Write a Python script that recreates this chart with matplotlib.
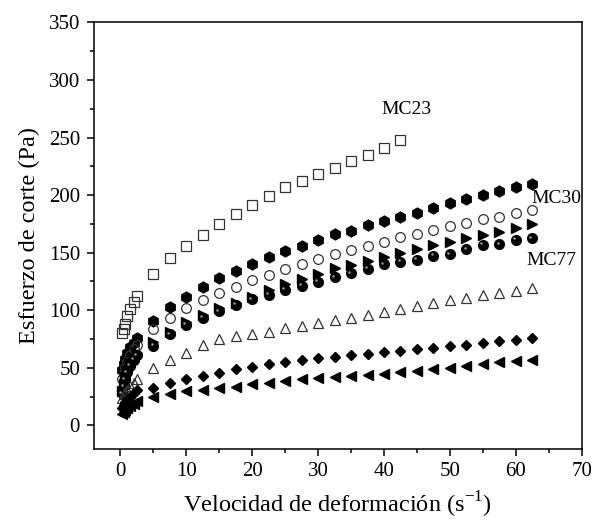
import matplotlib
matplotlib.use("Agg")
import matplotlib.pyplot as plt
from matplotlib import transforms
from matplotlib.ticker import MultipleLocator

plt.rcParams['font.family'] = ['Liberation Serif', 'DejaVu Serif']
plt.rcParams['mathtext.fontset'] = 'custom'
plt.rcParams['mathtext.rm'] = 'Liberation Serif'

# shear rates (1/s): dense start, then regular steps
x_low = [0.25, 0.5, 0.75, 1.0, 1.5, 2.0, 2.5]
x_main = [5, 7.5, 10, 12.5, 15, 17.5, 20, 22.5, 25, 27.5, 30, 32.5, 35,
          37.5, 40, 42.5, 45, 47.5, 50, 52.5, 55, 57.5, 60, 62.5]

# shear stress (Pa) per sample
sq_low = [80, 84, 88, 95, 101, 107, 112]
sq_main = [131.5, 145, 155.7, 165, 174.5, 183.3, 191.6, 199.5, 207, 212.5,
           218.1, 223.9, 229.6, 234.6, 241.2, 247.6]

hex_low = [48, 53, 58, 63, 68, 72, 76]
hex_main = [91, 102.8, 111.8, 120.2, 127.7, 134.3, 140.1, 145.9, 151.4, 155.9,
            160.7, 165.9, 169.2, 173.9, 177.5, 181.3, 184.8, 189.2, 193, 197,
            200.5, 203.8, 207.1, 210]

circ_low = [40, 45, 50, 55, 61, 66, 70]
circ_main = [83.5, 93, 101.7, 108.9, 114.7, 120.5, 126.3, 130.6, 135.5, 140.6,
             144.3, 148.8, 152.3, 155.7, 159.4, 163.3, 166.5, 170, 173, 176,
             179, 181.3, 184.6, 187]

rtri_low = [30, 36, 42, 48, 54, 59, 63]
rtri_main = [72.8, 81.5, 90.1, 95.9, 101.7, 106.6, 111.8, 117.6, 122.8, 127.4,
             131.6, 136.4, 139.3, 142.7, 145.9, 149.4, 152.9, 156.6, 159.4,
             162.4, 165.2, 168.2, 171.1, 174.8]

ball_low = [28, 34, 40, 46, 52, 57, 61]
ball_main = [69, 79, 87.5, 93.5, 99, 104.6, 109.5, 113.3, 117.6, 121, 124.8,
             128.6, 132.1, 135.8, 139.9, 142.1, 143.6, 147.1, 148.5, 152.9,
             156.6, 157.3, 160.9, 162.4]

otri_low = [24, 27, 29, 31, 34, 37, 40]
otri_main = [49.7, 56.9, 63.3, 69.9, 74.9, 77.5, 79, 81.5, 84.4, 86.7, 89.3,
             91.5, 93.5, 96, 98.5, 101, 103.5, 106.5, 108.9, 110.8, 113,
             114.7, 117, 119]

dia_low = [15, 18, 20, 22, 25, 28, 31]
dia_main = [32.4, 36.7, 40.2, 43.1, 45.9, 48.9, 50.6, 53.5, 55.5, 56.9, 58.4,
            59.8, 61.1, 62.4, 63.7, 65, 66.3, 67.6, 68.9, 70.2, 71.5, 73.6,
            74.2, 75.7]

ltri_low = [10, 12, 13, 15, 17, 19, 21]
ltri_main = [25.1, 27.5, 29.5, 30.9, 32.4, 33.8, 36.1, 37.3, 39, 40.2, 41.1,
             42, 43, 44, 45, 46.5, 47.5, 49, 50, 51.5, 53, 55.5, 56.3, 56.9]

fig = plt.figure(figsize=(5.93, 5.2), dpi=100)
ax = fig.add_axes([0.1585, 0.1375, 0.8225, 0.8195])

x_all = x_low + x_main
x_sq = x_low + x_main[:len(sq_main)]
edge = '#333333'

ax.plot(x_sq, sq_low + sq_main, 's', ms=6.6, mfc='none', mec=edge, mew=0.9)
ax.plot(x_all, hex_low + hex_main, 'h', ms=7.8, color='black')
ax.plot(x_all, circ_low + circ_main, 'o', ms=7, mfc='none', mec=edge, mew=0.9)
ax.plot(x_all, rtri_low + rtri_main, '>', ms=7.5, color='black')
ax.plot(x_all, ball_low + ball_main, 'o', ms=7, color='black')
# little highlight on the "ball" markers
hl = transforms.offset_copy(ax.transData, fig=fig, x=-1.3, y=1.2, units='points')
ax.plot(x_all, ball_low + ball_main, 'o', ms=1.8, color='#9a9a9a', mew=0,
        transform=hl)
ax.plot(x_all, otri_low + otri_main, '^', ms=7.4, mfc='none', mec=edge, mew=0.9)
ax.plot(x_all, dia_low + dia_main, 'D', ms=5.6, color='black')
ax.plot(x_all, ltri_low + ltri_main, '<', ms=7.5, color='black')

ax.text(39.6, 274, 'MC23', fontsize=14, ha='left', va='center')
ax.text(62.4, 197, 'MC30', fontsize=14, ha='left', va='center')
ax.text(61.6, 143, 'MC77', fontsize=14, ha='left', va='center')

ax.set_xlim(-4, 70)
ax.set_ylim(-20, 350)
ax.xaxis.set_major_locator(MultipleLocator(10))
ax.xaxis.set_minor_locator(MultipleLocator(5))
ax.yaxis.set_major_locator(MultipleLocator(50))
ax.yaxis.set_minor_locator(MultipleLocator(25))
ax.tick_params(which='both', direction='out', top=False, right=False,
               labelsize=15, width=1.1)
ax.tick_params(which='major', length=5, pad=5)
ax.tick_params(which='minor', length=3)
for s in ax.spines.values():
    s.set_linewidth(1.1)

ax.set_xlabel('Velocidad de deformación (s$^{\\mathregular{-1}}$)',
              fontsize=17.5, labelpad=6)
ax.set_ylabel('Esfuerzo de corte (Pa)', fontsize=17.5, labelpad=6)

fig.savefig('out.png', dpi=100)
